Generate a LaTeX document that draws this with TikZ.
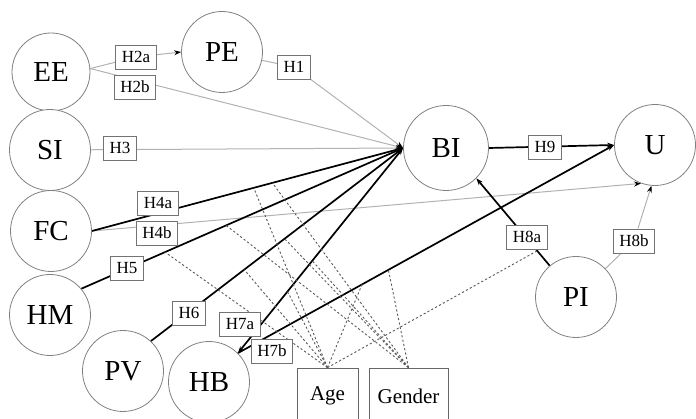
\documentclass[tikz,border=0pt]{standalone}
\usepackage{fontspec}
\setmainfont{Liberation Serif}
\usetikzlibrary{arrows.meta, backgrounds}

\begin{document}
\begin{tikzpicture}[x=1pt, y=-1pt, >={Stealth[length=7pt,width=5pt]},
    construct/.style={circle, draw=black!50, line width=0.8pt, fill=white, minimum size=81pt, inner sep=0pt, font=\fontsize{29}{30}\selectfont},
    hyp/.style={draw=black!55, line width=0.8pt, fill=white, minimum height=24pt, inner xsep=6pt, inner ysep=0pt, font=\fontsize{17}{18}\selectfont},
    modbox/.style={draw=black!60, line width=0.8pt, fill=white, minimum height=56pt, inner sep=0pt, font=\fontsize{21}{22}\selectfont},
    light/.style={draw=black!30, line width=1pt},
    heavy/.style={draw=black, line width=1.7pt},
    moder/.style={draw=black!65, line width=0.9pt, dash pattern=on 2.2pt off 2.2pt},
    arrowhd/.style={-{Stealth[length=7pt,width=5pt,color=black]}}]
    \useasboundingbox (0,0) rectangle (696,419);

    \node[construct, minimum size=78pt] (EE) at (51,72) {EE};
    \node[construct] (PE) at (222,52) {PE};
    \node[construct] (SI) at (50,150) {SI};
    \node[construct] (FC) at (51,231) {FC};
    \node[construct] (HM) at (50,315) {HM};
    \node[construct] (PV) at (123,371) {PV};
    \node[construct] (HB) at (209,382) {HB};
    \node[construct, minimum size=85pt] (BI) at (446,148) {BI};
    \node[construct] (U) at (655,145) {U};
    \node[construct] (PI) at (576,297) {PI};

    \node[hyp] (h2a) at (136,57) {H2a};
    \node[hyp] (h2b) at (135,87) {H2b};
    \node[hyp] (h1) at (294,67) {H1};
    \node[hyp] (h3) at (120,148) {H3};
    \node[hyp] (h4a) at (158,203) {H4a};
    \node[hyp] (h4b) at (157,233) {H4b};
    \node[hyp] (h5) at (127,268) {H5};
    \node[hyp] (h6) at (189,313) {H6};
    \node[hyp] (h7a) at (240,324) {H7a};
    \node[hyp] (h7b) at (272,351) {H7b};
    \node[hyp] (h9) at (545,147) {H9};
    \node[hyp] (h8a) at (527,237) {H8a};
    \node[hyp] (h8b) at (634,241) {H8b};

    \node[modbox, minimum width=61pt] (age) at (327.5,396) {Age};
    \node[modbox, minimum width=79pt] (gender) at (408.5,396) {Gender};

    \begin{scope}[on background layer]
        \draw[light, arrowhd] (EE.5) -- (h2a) -- (PE.west);
        \draw[light, arrowhd] (EE.5) -- (BI.west);
        \draw[light, arrowhd] (PE) -- (h1) -- (BI.west);
        \draw[light, arrowhd] (SI) -- (BI.west);
        \draw[light, arrowhd] (FC.east) -- (U.-110);
        \draw[heavy, ->] (FC.east) -- (BI.west) coordinate[pos=0.52] (fcA) coordinate[pos=0.58] (fcG);
        \draw[heavy, ->] (HM.40) -- (BI.west) coordinate[pos=0.26] (hmA) coordinate[pos=0.45] (hmG);
        \draw[heavy, ->] (PV.47) -- (BI.west) coordinate[pos=0.37] (pvA) coordinate[pos=0.53] (pvG);
        \draw[heavy, <->] (HB.45) -- (BI.west) coordinate[pos=0.30] (hbA) coordinate[pos=0.45] (hbG);
        \draw[heavy, ->] (HB.45) -- (U.west) coordinate[pos=0.33] (hbuA) coordinate[pos=0.40] (hbuG);
        \draw[heavy, ->] (BI.east) -- (U.west);
        \draw[heavy, ->] (PI) -- (BI.-45) coordinate[pos=0.17] (piA);
        \draw[light, arrowhd] (PI) -- (h8b) -- (U.-95);

        \foreach \m in {fcA, hmA, pvA, hbA, hbuA, piA}
            \draw[moder] (age.north) -- (\m);
        \foreach \m in {fcG, hmG, pvG, hbG, hbuG}
            \draw[moder] (gender.north) -- (\m);
    \end{scope}
\end{tikzpicture}
\end{document}
